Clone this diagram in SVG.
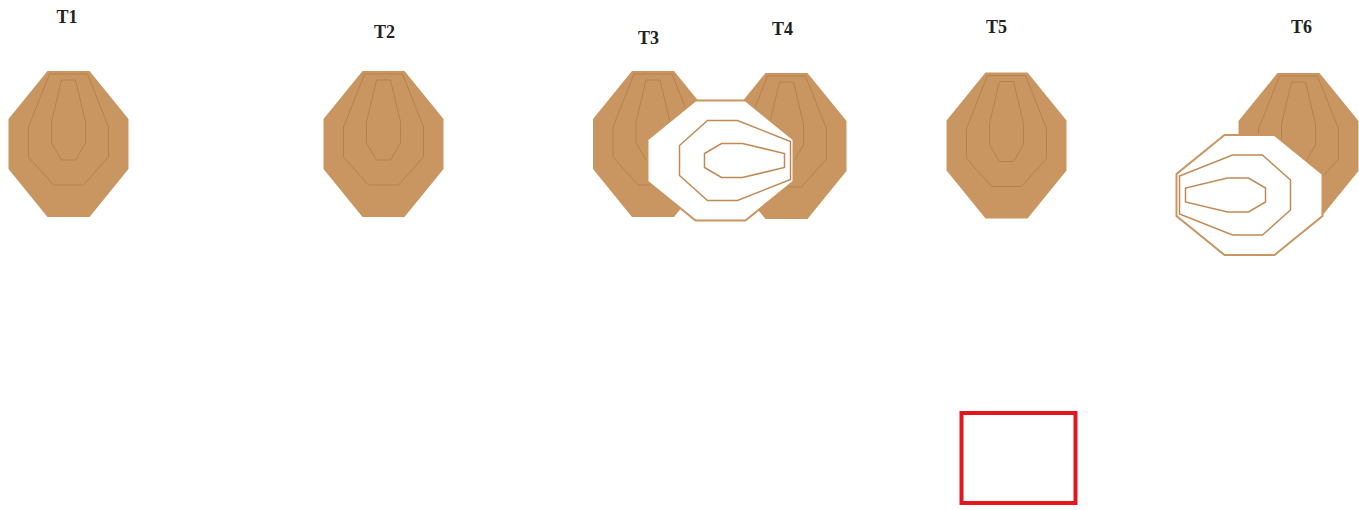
<svg xmlns="http://www.w3.org/2000/svg" xmlns:xlink="http://www.w3.org/1999/xlink" width="1359" height="510" viewBox="0 0 1359 510">
<style>
.lbl{font-family:"Liberation Serif",serif;font-size:18px;font-weight:bold;fill:#222;text-anchor:middle}
.oct{fill:#c99561;stroke:none}
.ctr{fill:none;stroke:#b5824f;stroke-width:1}
.woct{fill:#ffffff;stroke:#c99561;stroke-width:2}
.wctr{fill:none;stroke:#c08a55;stroke-width:1.5}
</style>
<defs>
<g id="tgt">
<polygon class="oct" points="-21,-73 21,-73 60,-25 60,25 21,73 -21,73 -60,25 -60,-25"/>
<polygon class="ctr" points="-19,-70 19,-70 40,-17 40,13 15,41 -15,41 -40,13 -40,-17"/>
<polygon class="ctr" points="-7,-64 7,-64 17,-22 17,-1 7,16 -7,16 -17,-1 -17,-22"/>
</g>
<g id="wtgt">
<polygon class="woct" points="-21,-73 21,-73 60,-25 60,25 21,73 -21,73 -60,25 -60,-25"/>
<polygon class="wctr" points="-19,-70 19,-70 40,-17 40,13 15,41 -15,41 -40,13 -40,-17"/>
<polygon class="wctr" points="-7,-64 7,-64 17,-22 17,-1 7,16 -7,16 -17,-1 -17,-22"/>
</g>
</defs>
<g id="T1">
<use xlink:href="#tgt" href="#tgt" transform="translate(68.5,144)"/>
<text class="lbl" x="67" y="23">T1</text>
</g>
<g id="T2">
<use xlink:href="#tgt" href="#tgt" transform="translate(383.5,144)"/>
<text class="lbl" x="384.5" y="38">T2</text>
</g>
<g id="T3">
<use xlink:href="#tgt" href="#tgt" transform="translate(653,144)"/>
<text class="lbl" x="648.5" y="44">T3</text>
</g>
<g id="T4">
<use xlink:href="#tgt" href="#tgt" transform="translate(786.5,146)"/>
<text class="lbl" x="782.5" y="35">T4</text>
</g>
<g id="T34-rotated">
<use xlink:href="#wtgt" href="#wtgt" transform="translate(720.5,160.5) rotate(90)"/>
</g>
<g id="T5">
<use xlink:href="#tgt" href="#tgt" transform="translate(1006.5,145.5)"/>
<text class="lbl" x="996.5" y="33">T5</text>
</g>
<g id="T6">
<use xlink:href="#tgt" href="#tgt" transform="translate(1298.5,146)"/>
<text class="lbl" x="1301.5" y="33">T6</text>
</g>
<g id="T6-rotated">
<use xlink:href="#wtgt" href="#wtgt" transform="translate(1249.5,195) rotate(-90)"/>
</g>
<g id="box">
<rect x="961.5" y="413" width="114" height="90" fill="none" stroke="#e3161e" stroke-width="4"/>
</g>
<g id="connectors"></g>
</svg>
